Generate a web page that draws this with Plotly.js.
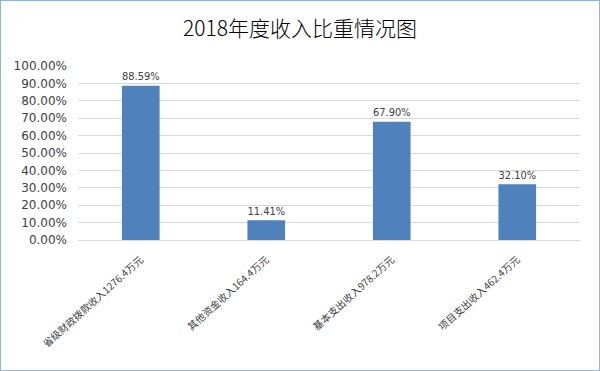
<!DOCTYPE html>
<html><head><meta charset="utf-8">
<script src="https://cdn.plot.ly/plotly-3.0.1.min.js"></script>
<style>html,body{margin:0;padding:0;background:#fff}#c{width:598px;height:369px;border:1px solid #8eb4e3}</style>
</head><body><div id="c"></div>
<script>
const categories = ["省级财政拨款收入1276.4万元","其他资金收入164.4万元","基本支出收入978.2万元","项目支出收入462.4万元"];
const values = [0.8859, 0.1141, 0.6790, 0.3210];
const valueLabels = ["88.59%","11.41%","67.90%","32.10%"];
const font = "'DejaVu Sans', 'Noto Sans CJK SC', sans-serif";
Plotly.newPlot('c', [{
  type:'bar', x:categories, y:values, text:valueLabels, textposition:'outside',
  textfont:{size:12, color:'#404040', family:font}, cliponaxis:false,
  marker:{color:'#4f81bd'}, hoverinfo:'none'
}], {
  width:598, height:369,
  margin:{l:77, r:19, t:65, b:130},
  title:{text:'2018年度收入比重情况图', font:{size:21, color:'#000', family:"'Noto Sans CJK SC', sans-serif", weight:300}, x:0.5, xanchor:'center', yref:'container', y:0.925, yanchor:'middle'},
  bargap:0.7,
  showlegend:false,
  plot_bgcolor:'#fff', paper_bgcolor:'#fff',
  xaxis:{tickangle:-42, tickfont:{size:10, color:'#404040', family:"'Noto Sans CJK SC', sans-serif"}, showline:true, linecolor:'#d9d9d9', ticks:'', ticklabelstandoff:9, fixedrange:true},
  yaxis:{range:[0,1], dtick:0.1, tickformat:'.2%', gridcolor:'#d9d9d9', zeroline:false, tickfont:{size:12, color:'#404040', family:font}, ticks:'', ticklen:0, ticklabelstandoff:10, fixedrange:true}
}, {displayModeBar:false, staticPlot:true});
</script></body></html>
